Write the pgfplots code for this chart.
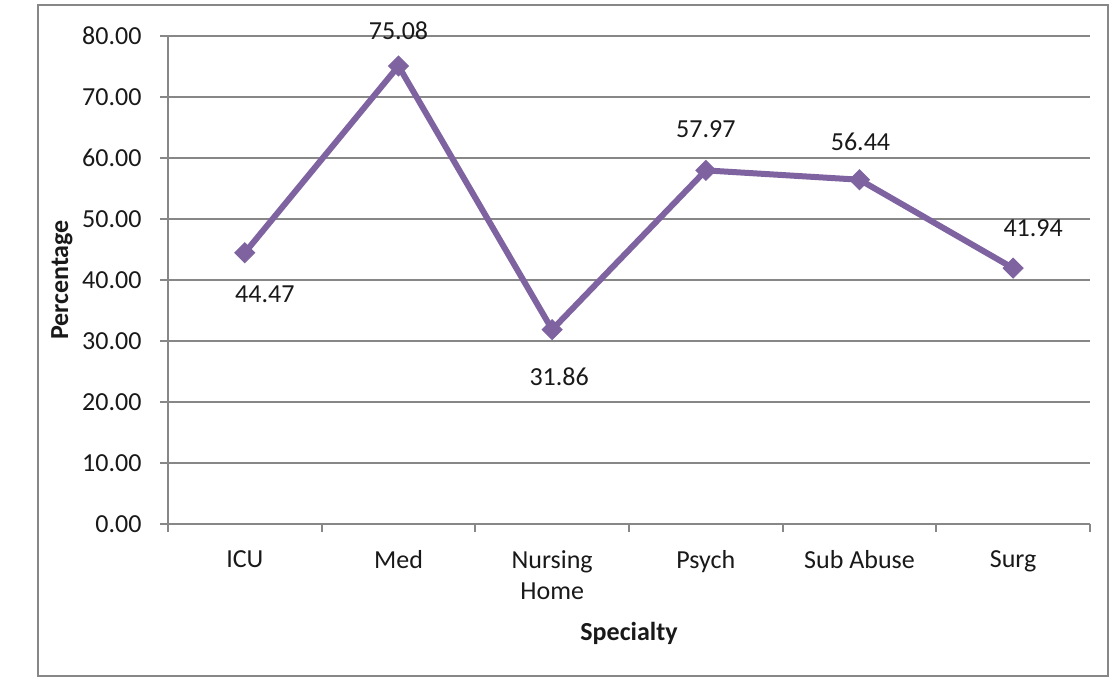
\documentclass[border=0pt]{standalone}
\usepackage{fontspec}
\setmainfont{Carlito}
\usepackage{pgfplots}
\pgfplotsset{compat=1.18}
\usepackage{pgfplotstable}
\definecolor{linepurple}{HTML}{7F63A1}
\definecolor{gridgray}{HTML}{878787}
\pgfplotstableread{
x y lab dx dy
0 44.47 44.47 20 -42
1 75.08 75.08 0 35
2 31.86 31.86 7 -47
3 57.97 57.97 0 41
4 56.44 56.44 1 38
5 41.94 41.94 20 40
}\datatable
\begin{document}
\begin{tikzpicture}[font=\fontsize{26bp}{31bp}\selectfont]
\path[use as bounding box] (-168bp,-155bp) rectangle (944bp,524bp);
\draw[gridgray, line width=2bp] (-130bp,-152bp) rectangle (940bp,519bp);
\begin{axis}[
  at={(0,0)}, anchor=south west,
  scale only axis, width=922bp, height=488bp,
  xmin=-0.5, xmax=5.5, ymin=0, ymax=80,
  axis lines*=left,
  axis line style={gridgray, line width=2bp},
  ymajorgrids, grid style={gridgray, line width=2bp},
  tick style={gridgray, line width=2bp},
  tick align=outside, major tick length=8bp,
  ytick={0,10,...,80},
  yticklabel style={xshift=-15bp, /pgf/number format/.cd, fixed, fixed zerofill, precision=2, assume math mode=true},
  xtick={-0.5,0.5,...,5.5}, xticklabels={},
  extra x ticks={0,1,2,3,4,5},
  extra x tick labels={ICU,Med,{Nursing\\Home},Psych,Sub Abuse,Surg},
  extra x tick style={major tick length=0pt, xticklabel style={align=center, yshift=-23bp}},
  tick label style={font=\fontsize{26bp}{31bp}\selectfont, text=black!90},
  xlabel={Specialty}, ylabel={Percentage},
  every axis x label/.style={at={(axis description cs:0.5,-0.2234)}, anchor=center, font=\fontsize{26bp}{31bp}\selectfont\bfseries, text=black!90},
  every axis y label/.style={at={(axis description cs:-0.11497,0.5)}, anchor=center, rotate=90, font=\fontsize{26bp}{31bp}\selectfont\bfseries, text=black!90},
  clip=false,
]
\addplot[linepurple, line width=6bp, mark=square*, mark size=7bp, mark options={rotate=45, solid, line width=1bp}] table[x=x,y=y]{\datatable};
\addplot[draw=none, mark=none, nodes near coords, point meta=explicit symbolic,
  visualization depends on={\thisrow{dx}\as\dx},
  visualization depends on={\thisrow{dy}\as\dy},
  every node near coord/.append style={anchor=center, xshift=\dx bp, yshift=\dy bp, font=\fontsize{26bp}{31bp}\selectfont, text=black!90}]
  table[x=x,y=y,meta=lab]{\datatable};
\end{axis}
\end{tikzpicture}
\end{document}
